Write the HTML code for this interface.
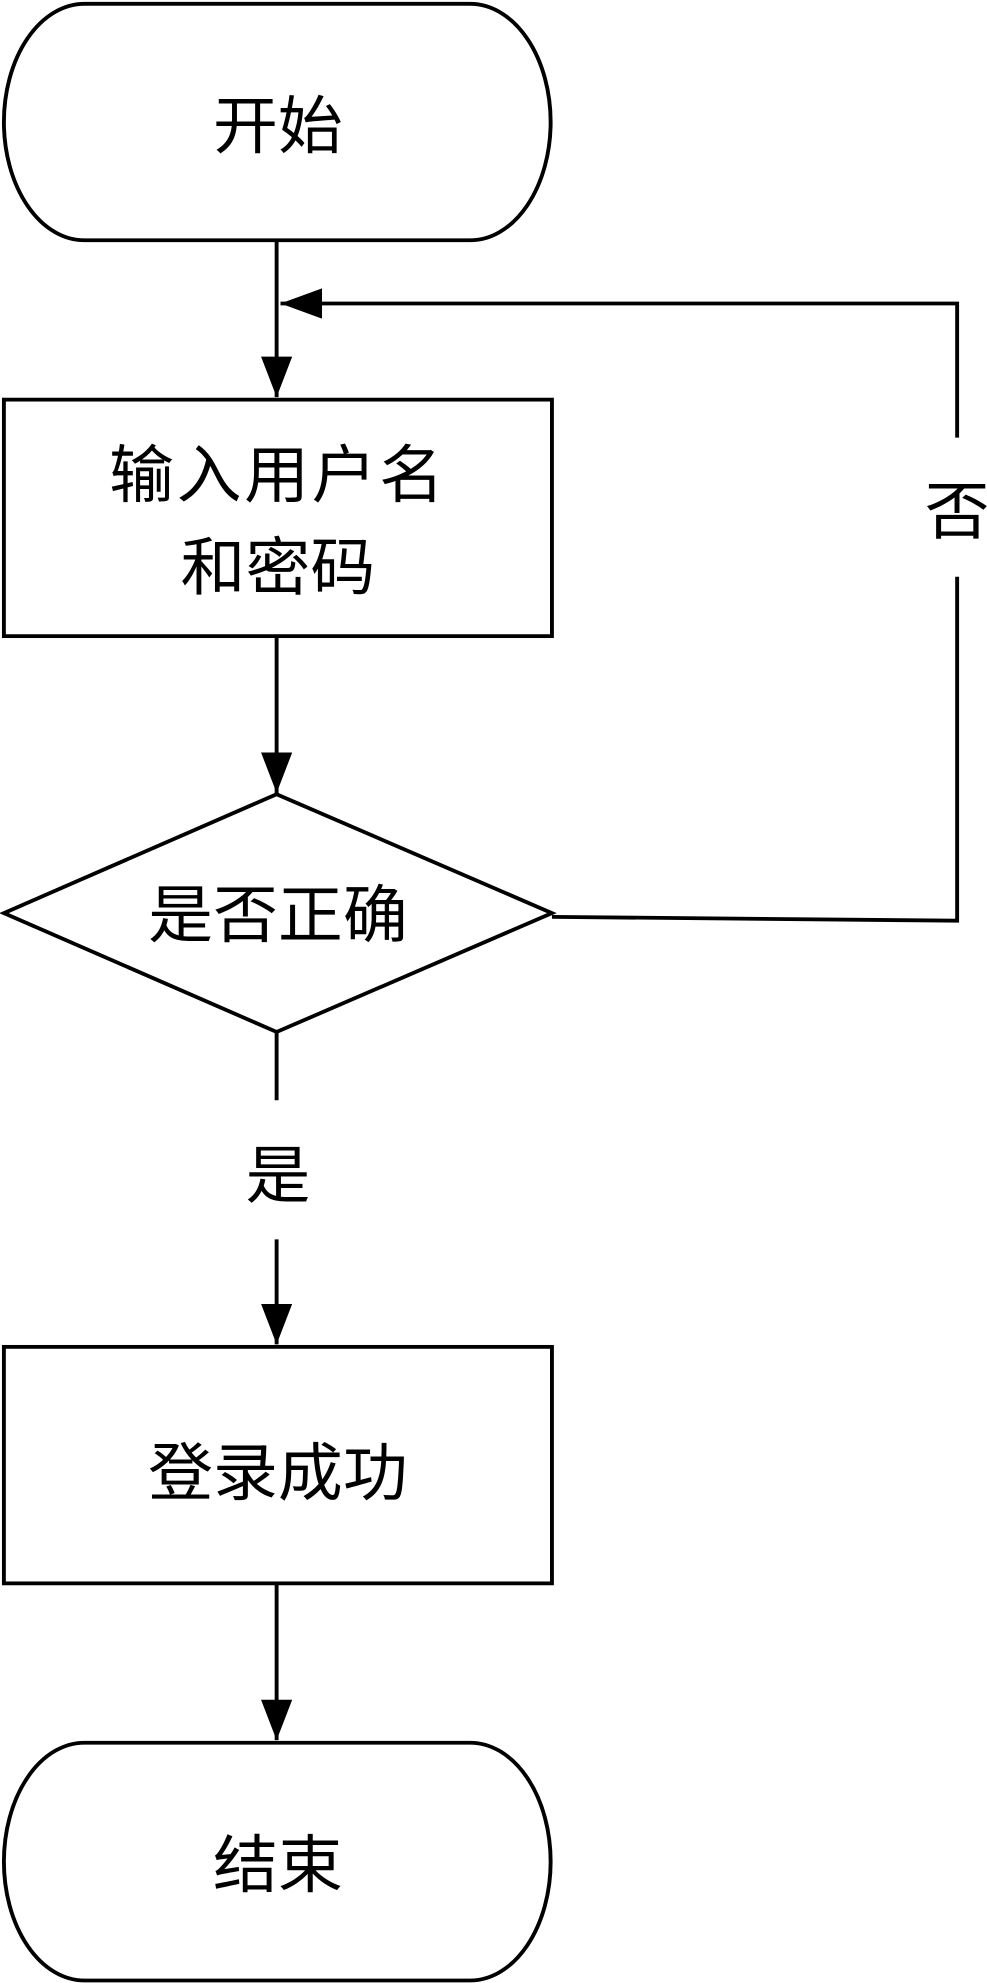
<!DOCTYPE html>
<html><head><meta charset="utf-8"><style>html,body{margin:0;padding:0;background:#fff}svg{display:block}</style></head>
<body>
<svg width="987" height="1983" viewBox="0 0 760 1568" preserveAspectRatio="none" xmlns="http://www.w3.org/2000/svg">
<defs>
<marker id="b" markerWidth="32" markerHeight="24" refX="32" refY="12" orient="auto" markerUnits="userSpaceOnUse"><path d="M0,0 L32,12 L0,24 z" fill="#000"/></marker></defs>
<g fill="none" stroke="#000" stroke-width="3">
<path d="M65,3 H362 A62,93.5 0 0 1 362,190 H65 A62,93.5 0 0 1 65,3 Z"/>
<rect x="3" y="316" width="422" height="187"/>
<path d="M213,628 L425,722 L213,816 L3,722 Z"/>
<rect x="3" y="1065" width="422" height="187"/>
<path d="M65,1378 H362 A62,94 0 0 1 362,1566 H65 A62,94 0 0 1 65,1378 Z"/>
<line x1="213" y1="190" x2="213" y2="314" marker-end="url(#b)"/>
<line x1="213" y1="503" x2="213" y2="627" marker-end="url(#b)"/>
<line x1="213" y1="816" x2="213" y2="870"/>
<line x1="213" y1="980" x2="213" y2="1063" marker-end="url(#b)"/>
<line x1="213" y1="1252" x2="213" y2="1376" marker-end="url(#b)"/>
<polyline points="425,725 737,728 737,456"/>
<polyline points="737,346 737,240 216,240" marker-end="url(#b)"/>
</g>
<g font-family="Liberation Sans, Noto Sans CJK SC, sans-serif" font-size="50" text-anchor="middle" fill="#000">
<text x="214" y="117">开始</text>
<text x="214" y="393" letter-spacing="2">输入用户名</text>
<text x="214" y="466">和密码</text>
<text x="214" y="741">是否正确</text>
<text x="214" y="947">是</text>
<text x="737" y="422">否</text>
<text x="214" y="1182">登录成功</text>
<text x="214" y="1492">结束</text>
</g>
</svg>
</body></html>
